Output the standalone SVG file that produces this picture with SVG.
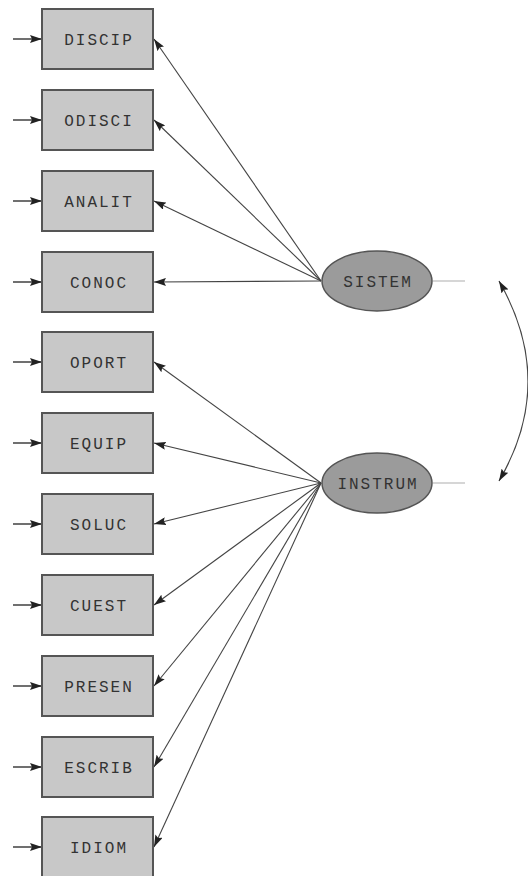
<svg xmlns="http://www.w3.org/2000/svg" width="528" height="876" viewBox="0 0 528 876">
<defs>
<marker id="ah" viewBox="0 0 12 8" refX="12" refY="4" markerWidth="12" markerHeight="8" markerUnits="userSpaceOnUse" orient="auto-start-reverse">
<path d="M0,0 L12,4 L0,8 L2,4 z" fill="#222"/>
</marker>
</defs>
<style>
.box{fill:#c8c8c8;stroke:#555;stroke-width:2}
.lat{fill:#9b9b9b;stroke:#555;stroke-width:1.5}
.t{font-family:"Liberation Mono","DejaVu Sans Mono",monospace;font-size:16px;letter-spacing:2px;fill:#333;text-anchor:middle}
.c{stroke:#444;stroke-width:1.1;fill:none;marker-end:url(#ah)}
.e{stroke:#333;stroke-width:1.4;fill:none;marker-end:url(#ah)}
.g{stroke:#bbb;stroke-width:1.2}
</style>
<rect width="528" height="876" fill="#fff"/>
<g id="connectors">
<line class="c" x1="321" y1="281" x2="154" y2="39"/>
<line class="c" x1="321" y1="281" x2="154" y2="120"/>
<line class="c" x1="321" y1="281" x2="154" y2="201"/>
<line class="c" x1="321" y1="281" x2="154" y2="282"/>
<line class="c" x1="321" y1="483" x2="154" y2="362"/>
<line class="c" x1="321" y1="483" x2="154" y2="443"/>
<line class="c" x1="321" y1="483" x2="154" y2="524"/>
<line class="c" x1="321" y1="483" x2="154" y2="605"/>
<line class="c" x1="321" y1="483" x2="154" y2="686"/>
<line class="c" x1="321" y1="483" x2="154" y2="767"/>
<line class="c" x1="321" y1="483" x2="154" y2="847"/>
<line class="e" x1="13" y1="39" x2="42" y2="39"/>
<line class="e" x1="13" y1="120" x2="42" y2="120"/>
<line class="e" x1="13" y1="201" x2="42" y2="201"/>
<line class="e" x1="13" y1="282" x2="42" y2="282"/>
<line class="e" x1="13" y1="362" x2="42" y2="362"/>
<line class="e" x1="13" y1="443" x2="42" y2="443"/>
<line class="e" x1="13" y1="524" x2="42" y2="524"/>
<line class="e" x1="13" y1="605" x2="42" y2="605"/>
<line class="e" x1="13" y1="686" x2="42" y2="686"/>
<line class="e" x1="13" y1="767" x2="42" y2="767"/>
<line class="e" x1="13" y1="847" x2="42" y2="847"/>
<line class="g" x1="433" y1="281" x2="465" y2="281"/>
<line class="g" x1="433" y1="483" x2="465" y2="483"/>
<path d="M499 281 Q557 382 499 481" stroke="#444" stroke-width="1.2" fill="none" marker-start="url(#ah)" marker-end="url(#ah)"/>
</g>
<g id="DISCIP"><rect class="box" x="42" y="9" width="111" height="60"/><text class="t" x="99" y="45">DISCIP</text></g>
<g id="ODISCI"><rect class="box" x="42" y="90" width="111" height="60"/><text class="t" x="99" y="126">ODISCI</text></g>
<g id="ANALIT"><rect class="box" x="42" y="171" width="111" height="60"/><text class="t" x="99" y="207">ANALIT</text></g>
<g id="CONOC"><rect class="box" x="42" y="252" width="111" height="60"/><text class="t" x="99" y="288">CONOC</text></g>
<g id="OPORT"><rect class="box" x="42" y="332" width="111" height="60"/><text class="t" x="99" y="368">OPORT</text></g>
<g id="EQUIP"><rect class="box" x="42" y="413" width="111" height="60"/><text class="t" x="99" y="449">EQUIP</text></g>
<g id="SOLUC"><rect class="box" x="42" y="494" width="111" height="60"/><text class="t" x="99" y="530">SOLUC</text></g>
<g id="CUEST"><rect class="box" x="42" y="575" width="111" height="60"/><text class="t" x="99" y="611">CUEST</text></g>
<g id="PRESEN"><rect class="box" x="42" y="656" width="111" height="60"/><text class="t" x="99" y="692">PRESEN</text></g>
<g id="ESCRIB"><rect class="box" x="42" y="737" width="111" height="60"/><text class="t" x="99" y="773">ESCRIB</text></g>
<g id="IDIOM"><rect class="box" x="42" y="817" width="111" height="60"/><text class="t" x="99" y="853">IDIOM</text></g>
<g id="SISTEM"><ellipse class="lat" cx="377" cy="281" rx="55" ry="30"/><text class="t" x="378" y="287">SISTEM</text></g>
<g id="INSTRUM"><ellipse class="lat" cx="377" cy="483" rx="55" ry="30"/><text class="t" x="378" y="489">INSTRUM</text></g>
</svg>
